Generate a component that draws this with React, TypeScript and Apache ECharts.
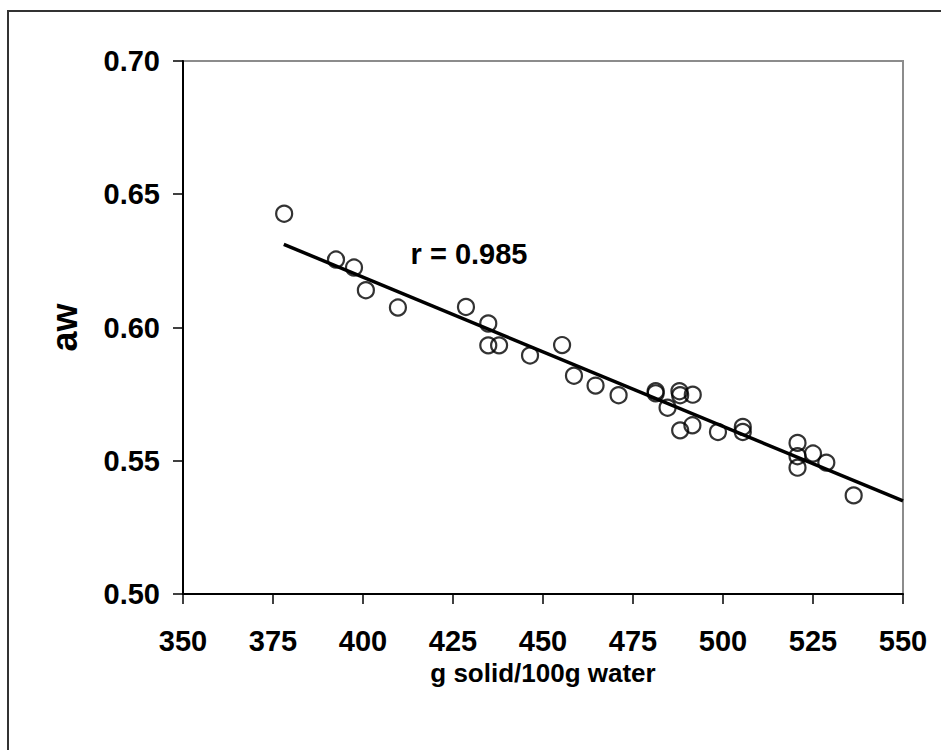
import React, { useEffect, useRef } from "react";
import * as echarts from "echarts";

const xValues: number[] = [
  378.1, 392.5, 397.5, 400.8, 409.7, 428.6, 434.8, 434.8, 437.8, 446.4, 455.3,
  458.6, 464.6, 471.0, 481.3, 481.3, 484.6, 487.9, 488.1, 491.6, 488.1, 491.5,
  498.6, 505.5, 505.5, 520.7, 520.7, 520.7, 525.0, 528.7, 536.3,
];
const yValues: number[] = [
  0.6427, 0.6255, 0.6225, 0.614, 0.6075, 0.6077, 0.6015, 0.5933, 0.5933, 0.5895,
  0.5934, 0.5819, 0.5782, 0.5746, 0.5761, 0.5753, 0.5699, 0.5761, 0.5746, 0.5748,
  0.5614, 0.5633, 0.5608, 0.5627, 0.5608, 0.5567, 0.5517, 0.5474, 0.5527, 0.5493,
  0.537,
];
const trendX: number[] = [378, 550];
const trendY: number[] = [0.6312, 0.5349];
const xTicks = { min: 350, max: 550, interval: 25 };
const yTicks = { min: 0.5, max: 0.7, interval: 0.05 };
const rLabel = "r = 0.985";
const xTitle = "g solid/100g water";
const yTitle = "aw";

const FONT = "'Liberation Sans', Arial, Helvetica, sans-serif";

export default function App() {
  const ref = useRef<HTMLDivElement>(null);
  useEffect(() => {
    if (!ref.current) return;
    const chart = echarts.init(ref.current, undefined, { renderer: "svg" });
    const points = xValues.map((x, i) => [x, yValues[i]]);
    const trend = trendX.map((x, i) => [x, trendY[i]]);
    chart.setOption({
      animation: false,
      backgroundColor: "#ffffff",
      grid: {
        left: 183,
        top: 61,
        right: 38,
        bottom: 156,
        show: true,
        borderColor: "#8c8c8c",
        borderWidth: 2,
        backgroundColor: "transparent",
      },
      graphic: [
        {
          type: "rect",
          shape: { x: 8, y: 11, width: 960, height: 780 },
          style: { fill: "none", stroke: "#333333", lineWidth: 2 },
          silent: true,
          z: 100,
        },
        {
          type: "text",
          x: 469,
          y: 254,
          style: {
            text: rLabel,
            font: `bold 29px ${FONT}`,
            fill: "#000",
            align: "center",
            verticalAlign: "middle",
          },
          z: 100,
        },
      ],
      xAxis: {
        type: "value",
        min: xTicks.min,
        max: xTicks.max,
        interval: xTicks.interval,
        name: xTitle,
        nameLocation: "middle",
        nameGap: 61,
        nameTextStyle: {
          fontFamily: FONT,
          fontWeight: "bold",
          fontSize: 26,
          color: "#000",
        },
        axisLine: { show: true, onZero: false, lineStyle: { color: "#000", width: 2 } },
        axisTick: { show: true, inside: false, length: 10, lineStyle: { color: "#000", width: 1.5 } },
        splitLine: { show: false },
        axisLabel: {
          fontFamily: FONT,
          fontWeight: "bold",
          fontSize: 29,
          color: "#000",
          margin: 32,
        },
      },
      yAxis: {
        type: "value",
        min: yTicks.min,
        max: yTicks.max,
        interval: yTicks.interval,
        name: yTitle,
        nameLocation: "middle",
        nameGap: 101,
        nameRotate: 90,
        nameTextStyle: {
          fontFamily: FONT,
          fontWeight: "bold",
          fontSize: 36,
          color: "#000",
        },
        axisLine: { show: true, onZero: false, lineStyle: { color: "#000", width: 2 } },
        axisTick: { show: true, inside: false, length: 10, lineStyle: { color: "#000", width: 1.5 } },
        splitLine: { show: false },
        axisLabel: {
          fontFamily: FONT,
          fontWeight: "bold",
          fontSize: 29,
          color: "#000",
          margin: 23,
          formatter: (v: number) => v.toFixed(2),
        },
      },
      series: [
        {
          type: "scatter",
          data: points,
          symbol: "circle",
          symbolSize: 16,
          itemStyle: { color: "rgba(0,0,0,0)", borderColor: "#000", borderWidth: 2.2 },
          z: 2,
        },
        {
          type: "line",
          data: trend,
          symbol: "none",
          lineStyle: { color: "#000", width: 3.5 },
          z: 3,
        },
      ],
    });
    return () => chart.dispose();
  }, []);
  return (
    <div
      ref={ref}
      style={{ position: "absolute", left: 0, top: 0, width: 941, height: 750 }}
    />
  );
}
